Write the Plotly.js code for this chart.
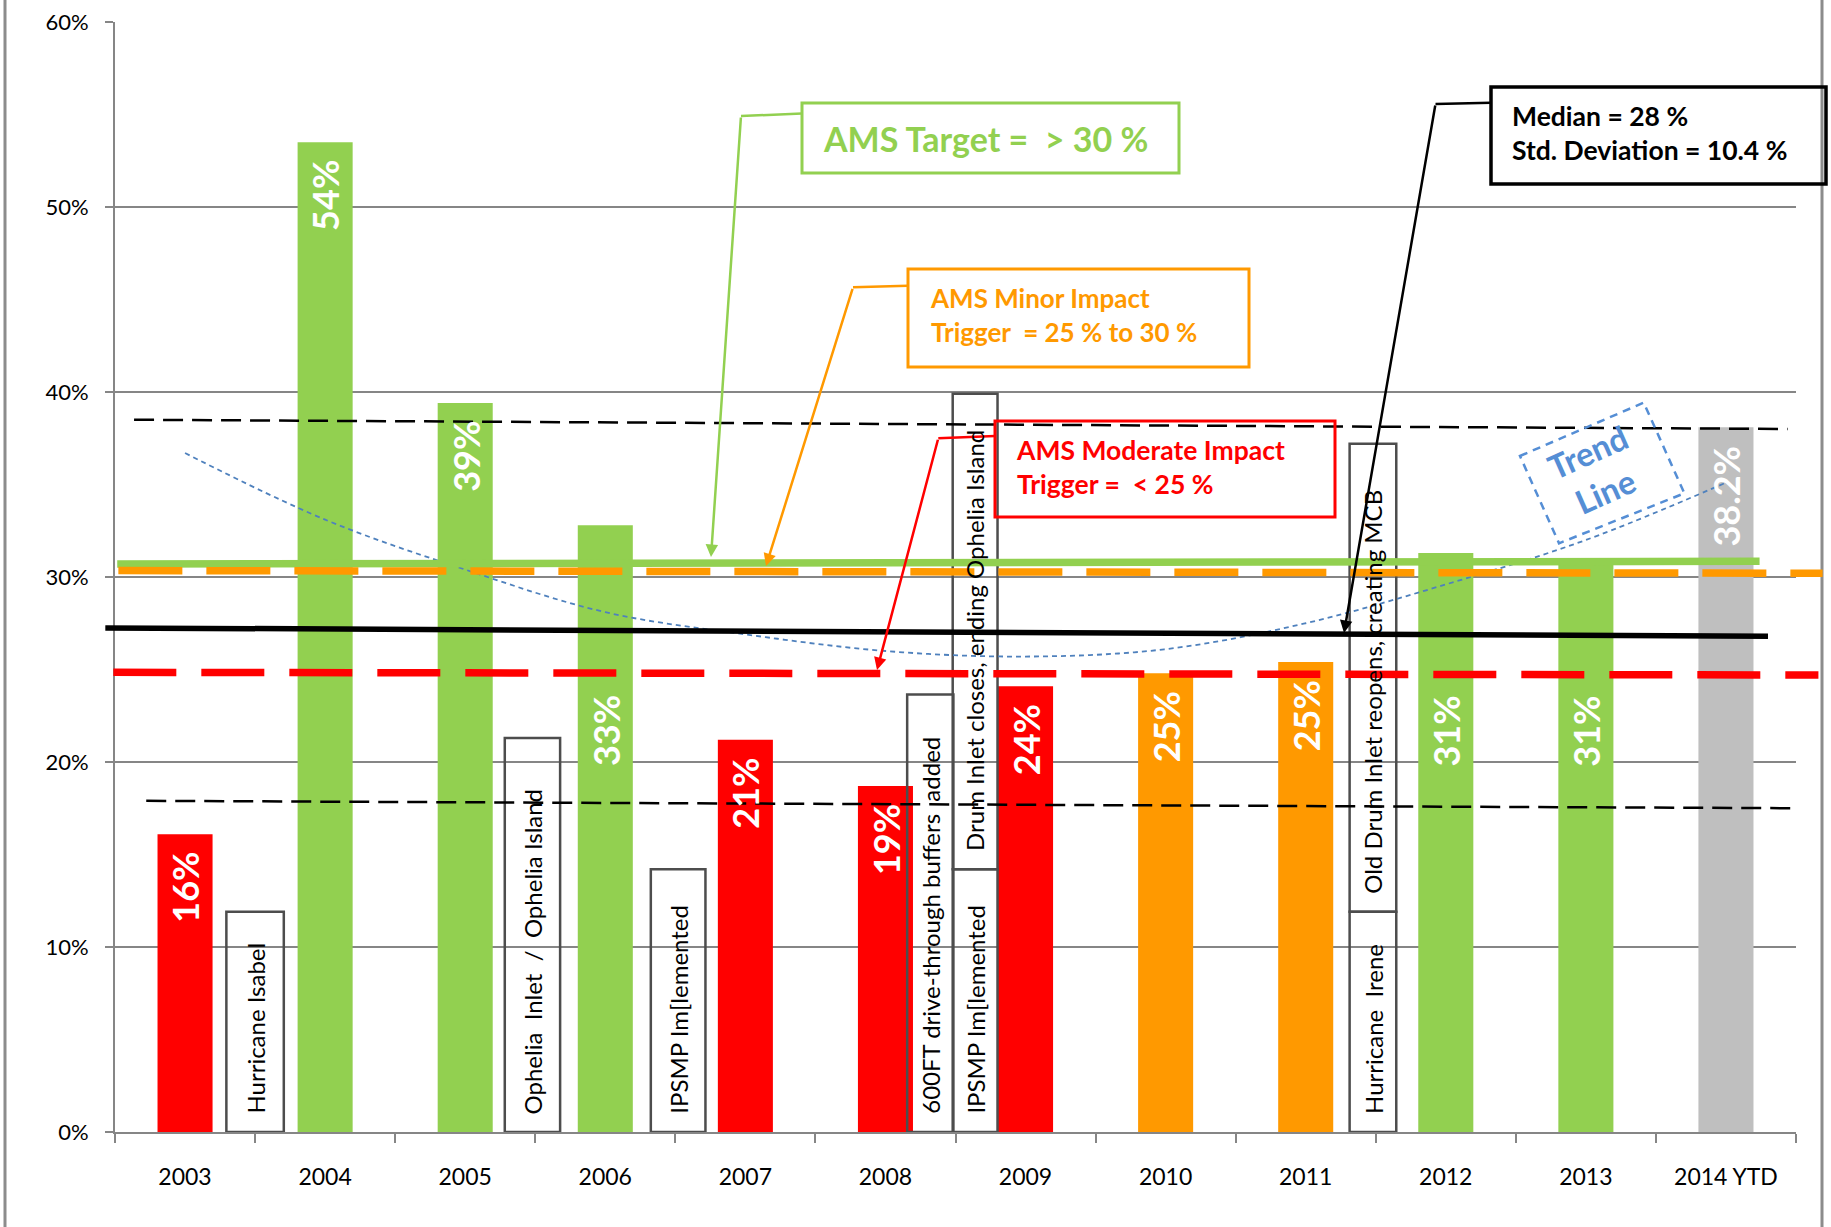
<!DOCTYPE html>
<html>
<head>
<meta charset="utf-8">
<script src="https://cdn.plot.ly/plotly-3.0.1.min.js"></script>
<style>
  html, body { margin: 0; padding: 0; background: #fff; }
  #chart { width: 1831px; height: 1227px; }
</style>
</head>
<body>
<div id="chart"></div>
<script>
// AMS percentage per year, with event notes, trigger levels and trend.

const YEARS  = ["2003", "2004", "2005", "2006", "2007", "2008", "2009", "2010", "2011", "2012", "2013", "2014 YTD"];
const VALUES = [16.1, 53.5, 39.4, 32.8, 21.2, 18.7, 24.1, 24.8, 25.4, 31.3, 31.0, 38.1];
const LABELS = ["16%", "54%", "39%", "33%", "21%", "19%", "24%", "25%", "25%", "31%", "31%", "38.2%"];
const STATUS = ["red", "green", "green", "green", "red", "red", "red", "orange", "orange", "green", "green", "ytd"];

// event notes: place on the year axis, bottom and top of each note box
const EVENT_TEXT = [
  "Hurricane Isabel",
  "Ophelia\u00a0 Inlet\u00a0 /\u00a0 Ophelia Island",
  "IPSMP Im[lemented",
  "600FT drive-through buffers\u00a0 added",
  "IPSMP Im[lemented",
  "Drum Inlet closes, ending Ophelia Island",
  "Hurricane\u00a0 Irene",
  "Old Drum Inlet reopens, creating MCB",
];
const EVENT_AT   = [0.5, 2.48, 3.52, 5.32, 5.64, 5.64, 8.48, 8.48];
const EVENT_FROM = [0, 0, 0, 0, 0, 14.2, 0, 11.9];
const EVENT_TO   = [11.9, 21.3, 14.2, 23.65, 14.2, 39.9, 11.9, 37.2];

// polynomial trend as drawn, one reading per year
const TREND = [36.7, 33.1, 30.4, 28.1, 26.9, 26.0, 25.7, 26.1, 27.5, 29.6, 32.0, 35.1];

// reference levels (left end, right end)
const TARGET   = [30.7, 30.85];
const MINOR    = [30.35, 30.2];
const MODERATE = [24.85, 24.7];
const MEDIAN   = [27.25, 26.8];
const BAND_HI  = [38.5, 38.0];
const BAND_LO  = [17.9, 17.5];

const COLORS = { red: "#ff0000", green: "#92d050", orange: "#ff9900", ytd: "#bfbfbf" };
const FONT = "Lato, 'Open Sans', sans-serif";

// page geometry, used only for the drawn notes and leaders
const W = 1831, H = 1227;
const M = { l: 115, r: 35, t: 22, b: 95 };
const PW = W - M.l - M.r, PH = H - M.t - M.b;
const px = (x) => (x - M.l) / PW;
const py = (y) => (H - M.b - y) / PH;
const cat = (c) => (c + 0.5) / YEARS.length;

const xs = YEARS.map((_, i) => i);

const traces = [
  {
    type: "bar", x: xs, y: VALUES, width: 0.393,
    marker: { color: STATUS.map((s) => COLORS[s]) },
    hoverinfo: "skip",
  },
  {
    type: "bar", x: EVENT_AT, base: EVENT_FROM,
    y: EVENT_TO.map((t, i) => t - EVENT_FROM[i]),
    width: [0.41, 0.395, 0.39, 0.33, 0.32, 0.32, 0.333, 0.333],
    marker: { color: "rgba(0,0,0,0)", line: { color: "#4d4d4d", width: 2.5 } },
    hoverinfo: "skip",
  },
  {
    type: "scatter", mode: "lines", x: xs, y: TREND,
    line: { color: "#4f81bd", width: 1.8, dash: "5px,4px", shape: "spline" },
    hoverinfo: "skip",
  },
];

function refLine(level, c0, c1, color, width, dash) {
  return {
    type: "line", xref: "paper", yref: "y", layer: "above",
    x0: cat(c0), x1: cat(c1), y0: level[0], y1: level[1],
    line: { color, width, dash: dash || "solid" },
  };
}

function box(x0, y0, x1, y1, color, width) {
  return {
    type: "rect", xref: "paper", yref: "paper", layer: "above",
    x0: px(x0), x1: px(x1), y0: py(y0), y1: py(y1),
    fillcolor: "rgba(0,0,0,0)", line: { color, width },
  };
}

function seg(a, b, color, width) {
  return {
    type: "line", xref: "paper", yref: "paper", layer: "above",
    x0: px(a[0]), y0: py(a[1]), x1: px(b[0]), y1: py(b[1]),
    line: { color, width },
  };
}

function arrow(tail, tip, color, width) {
  return {
    xref: "paper", yref: "paper", x: px(tip[0]), y: py(tip[1]),
    axref: "pixel", ayref: "pixel", ax: tail[0] - tip[0], ay: tail[1] - tip[1],
    text: "", showarrow: true, arrowhead: 2, arrowsize: 1, arrowwidth: width,
    arrowcolor: color, standoff: 0,
  };
}

function note(x, y, text, color, size) {
  return {
    xref: "paper", yref: "paper", x: px(x), y: py(y), xanchor: "left", yanchor: "middle",
    text, align: "left", showarrow: false,
    font: { family: FONT, size, color, weight: "bold" },
  };
}

const trendCorners = [[1520, 456], [1643.7, 402.7], [1684.4, 493.3], [1559, 543.3]];
const trendPath = trendCorners
  .map((p, i) => (i ? "L" : "M") + px(p[0]) + "," + py(p[1])).join(" ") + " Z";

const shapes = [
  // chart frame
  { type: "line", xref: "paper", yref: "paper", x0: px(5), x1: px(5), y0: py(0), y1: py(H),
    line: { color: "#8c8c8c", width: 3 } },
  { type: "line", xref: "paper", yref: "paper", x0: px(1822), x1: px(1822), y0: py(0), y1: py(H),
    line: { color: "#8c8c8c", width: 3 } },

  refLine(BAND_HI, -0.364, 11.44, "#000", 2.5, "20px,9px"),
  refLine(BAND_LO, -0.277, 11.52, "#000", 2.5, "20px,9px"),
  refLine(MEDIAN, -0.569, 11.30, "#000", 5.5),
  refLine(TARGET, -0.484, 11.24, "#92d050", 7.5),
  refLine(MINOR, -0.476, 11.69, "#ff9900", 7.5, "64px,24px"),
  refLine(MODERATE, -0.512, 11.66, "#ff0000", 7.5, "63px,25px"),

  box(802, 103, 1179, 173, "#92d050", 3),
  box(908, 269, 1249, 367, "#ff9900", 3),
  box(995, 421, 1335, 517, "#ff0000", 3),
  box(1491, 87, 1826, 184, "#000", 3.5),

  seg([741, 116], [802, 113.5], "#92d050", 2.5),
  seg([853, 287.3], [908, 285.7], "#ff9900", 2.5),
  seg([938.3, 438.3], [995, 436], "#ff0000", 2.5),
  seg([1435.5, 104], [1491, 102.7], "#000", 2.5),

  { type: "path", xref: "paper", yref: "paper", layer: "above", path: trendPath,
    line: { color: "#558ed5", width: 2.5, dash: "8px,6px" } },
];

const annotations = [];

// value labels inside bars; bars ending among the reference lines get their label dropped below them
VALUES.forEach((v, i) => {
  const crowded = v > 26 && v < 36;
  annotations.push({
    x: i, y: crowded ? MODERATE[0] : v, xref: "x", yref: "y",
    yanchor: "top", yshift: crowded ? -21 : -16,
    text: LABELS[i], textangle: -90, showarrow: false,
    font: { family: FONT, size: 36, color: "#fff", weight: "bold" },
  });
});

EVENT_TEXT.forEach((t, i) => {
  annotations.push({
    x: EVENT_AT[i], y: EVENT_FROM[i], xref: "x", yref: "y",
    yanchor: "bottom", yshift: 16,
    text: t, textangle: -90, showarrow: false,
    font: { family: FONT, size: 24, color: "#000" },
  });
});

annotations.push(
  note(821, 138, "AMS Target =\u00a0 &gt; 30 %", "#92d050", 34),
  note(928, 315, "AMS Minor Impact<br>Trigger\u00a0 = 25 % to 30 %", "#ff9900", 26),
  note(1014, 467, "AMS Moderate Impact<br>Trigger =\u00a0 &lt; 25 %", "#ff0000", 26.5),
  note(1510, 133, "Median = 28 %<br>Std. Deviation = 10.4 %", "#000", 26.5),
  arrow([741, 116], [711, 557], "#92d050", 2.5),
  arrow([853, 287.3], [766, 566], "#ff9900", 2.5),
  arrow([938.3, 438.3], [877, 670], "#ff0000", 2.5),
  arrow([1435.5, 104], [1344, 633], "#000", 2.5),
  {
    xref: "paper", yref: "paper", x: px(1596), y: py(472), xanchor: "center", yanchor: "middle",
    text: "Trend<br>Line", textangle: -24, showarrow: false, align: "center",
    font: { family: FONT, size: 33, color: "#558ed5", weight: "bold" },
  }
);

const layout = {
  width: W, height: H,
  margin: M,
  paper_bgcolor: "white", plot_bgcolor: "white",
  font: { family: FONT, color: "#000", size: 22 },
  barmode: "overlay",
  showlegend: false,
  xaxis: {
    range: [-0.5, 11.5], tickvals: xs, ticktext: YEARS, ticks: "",
    showgrid: false, zeroline: false, showline: true, linecolor: "#868686", linewidth: 2,
    tickfont: { family: FONT, size: 23, color: "#000" }, ticklabelstandoff: 23,
    minor: { tick0: -0.5, dtick: 1, ticks: "outside", ticklen: 9, tickwidth: 2, tickcolor: "#868686", showgrid: false },
  },
  yaxis: {
    range: [0, 60], dtick: 10, ticksuffix: "%",
    showgrid: true, gridcolor: "#868686", gridwidth: 2,
    zeroline: false, showline: true, linecolor: "#868686", linewidth: 2,
    ticks: "outside", ticklen: 8, tickwidth: 2, tickcolor: "#868686",
    tickfont: { family: FONT, size: 22, color: "#000" }, ticklabelstandoff: 12,
  },
  shapes,
  annotations,
};

Plotly.newPlot("chart", traces, layout, { displayModeBar: false, staticPlot: true });
</script>
</body>
</html>
